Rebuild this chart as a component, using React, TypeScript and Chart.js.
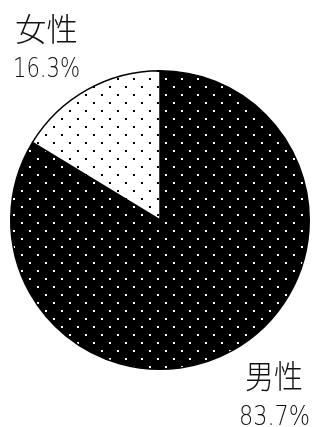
import React, { useEffect, useRef } from "react";
import { Chart, registerables } from "chart.js";

Chart.register(...registerables);

const categories = ["男性", "女性"];
const values = [83.7, 16.3];
const percentLabels = ["83.7%", "16.3%"];

function makeDotPattern(bg: string, dot: string): CanvasPattern | string {
  const c = document.createElement("canvas");
  c.width = 16;
  c.height = 16;
  const x = c.getContext("2d");
  if (!x) return bg;
  x.fillStyle = bg;
  x.fillRect(0, 0, 16, 16);
  x.fillStyle = dot;
  x.fillRect(13, 6, 2, 2);
  x.fillRect(5, 14, 2, 2);
  const p = x.createPattern(c, "repeat");
  return p || bg;
}

const labelPlugin = {
  id: "cornerLabels",
  afterDraw(chart: any) {
    const ctx = chart.ctx as CanvasRenderingContext2D;
    // label anchors: [kanji left, kanji bottom, kanji width, pct left, pct bottom, pct width]
    const anchors = [
      [245, 392, 58, 239, 425, 71],
      [15, 45, 63, 13, 77, 67],
    ];
    ctx.save();
    ctx.fillStyle = "#111";
    ctx.textAlign = "left";
    categories.forEach((name, i) => {
      const a = anchors[i];
      ctx.font = '300 32px "Noto Sans CJK JP"';
      ctx.textBaseline = "ideographic";
      ctx.fillText(name, a[0], a[1], a[2]);
      ctx.font = '200 26px "DejaVu Sans"';
      ctx.textBaseline = "alphabetic";
      ctx.fillText(percentLabels[i], a[3], a[4], a[5]);
    });
    ctx.restore();
  },
};

export default function App() {
  const ref = useRef<HTMLCanvasElement>(null);
  useEffect(() => {
    if (!ref.current) return;
    const male = makeDotPattern("#000", "#fff");
    const female = makeDotPattern("#fff", "#000");
    const chart = new Chart(ref.current, {
      type: "pie",
      data: {
        labels: categories,
        datasets: [
          {
            data: values,
            backgroundColor: [male, female] as any,
            borderColor: "#000",
            borderWidth: 1.5,
          },
        ],
      },
      options: {
        responsive: false,
        animation: false,
        layout: { padding: { left: 10, right: 4, top: 70, bottom: 57 } },
        plugins: {
          legend: { display: false },
          tooltip: { enabled: false },
        },
      },
      plugins: [labelPlugin],
    });
    return () => chart.destroy();
  }, []);
  return (
    <div
      style={{
        position: "fixed",
        left: 0,
        top: 0,
        width: 314,
        height: 427,
        background: "#fff",
      }}
    >
      <canvas ref={ref} width={314} height={427} />
    </div>
  );
}
